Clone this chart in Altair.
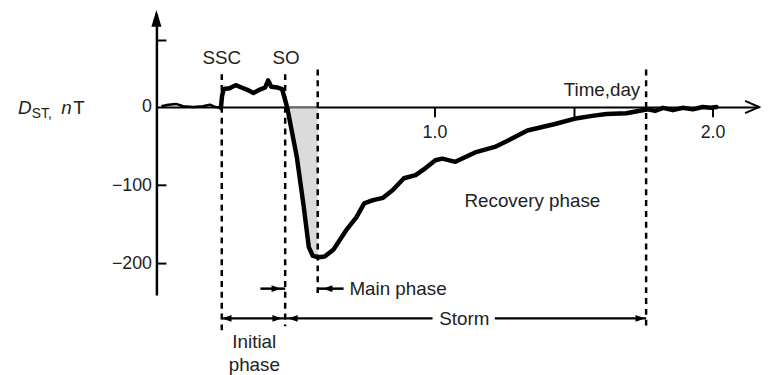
import altair as alt
import pandas as pd

# ---- data ----
quiet_t = [0.018, 0.043, 0.071, 0.096, 0.132, 0.167, 0.192, 0.213, 0.232]
quiet_v = [1, 3, 4, 1, 0, 1, 3, 0, -1]

storm_t = [0.232, 0.236, 0.242, 0.263, 0.285, 0.306, 0.327, 0.349, 0.370, 0.391,
           0.402, 0.413, 0.434, 0.452, 0.459, 0.470, 0.505, 0.530, 0.548, 0.562,
           0.584, 0.605, 0.637, 0.683, 0.719, 0.747, 0.779, 0.815, 0.850, 0.890,
           0.932, 0.968, 1.003, 1.028, 1.075, 1.146, 1.217, 1.263, 1.334, 1.430,
           1.502, 1.573, 1.619, 1.690, 1.733, 1.768, 1.793, 1.822, 1.857, 1.893,
           1.929, 1.964, 1.993, 2.014]
storm_v = [-1, 14, 23, 24, 28, 25, 22, 18, 22, 25,
           34, 26, 25, 23, 14, 0, -64, -128, -179, -190,
           -192, -191, -182, -157, -141, -123, -119, -116, -106, -91,
           -87, -78, -68, -66, -70, -58, -51, -43, -30, -22,
           -15, -11, -9, -8, -5, -3, -5, -1, -4, -1,
           -3, 0, -1, 0]

shade_t = [0.470, 0.505, 0.530, 0.548, 0.562, 0.580]
shade_v = [0, -64, -128, -179, -190, -192]

vline_t = [0.235, 0.463, 0.580, 1.761]
vline_top = [42, 42, 48, 48]
vline_bottom = [-285, -280, -239, -279]

seg_t1 = [0.374, 0.580, 0.235, 0.463, 1.217]
seg_t2 = [0.463, 0.673, 0.463, 0.993, 1.761]
seg_v = [-232, -232, -270, -270, -270]

head_t = [0.431, 0.616, 0.253, 0.434, 0.491, 1.740]
head_v = [-232, -232, -270, -270, -270, -270]
head_dir = ["right", "left", "left", "right", "left", "right"]

x_ticks = [1.0, 1.5, 2.0]
y_ticks = [-200, -100, 0]
y_inner_ticks = [-200, -100, 85]

ann_text = ["SSC", "SO", "Time,day", "Recovery phase", "Main phase", "Storm", "Initial", "phase"]
ann_t = [0.235, 0.466, 1.740, 1.352, 0.694, 1.107, 0.352, 0.352]
ann_v = [54.5, 54.5, 14, -127.5, -240, -279, -308, -337]
ann_align = ["center", "center", "right", "center", "left", "center", "center", "center"]

X_MAX = 2.167
Y_MIN, Y_MAX = -240, 119

FONT = "Liberation Sans"
TXT = "#222222"

xs = alt.Scale(domain=[0, X_MAX], nice=False, zero=False)
ys = alt.Scale(domain=[Y_MIN, Y_MAX], nice=False, zero=False)

AX = alt.Axis(
    values=x_ticks, format=".1f",
    labelExpr="datum.value == 1.5 ? '' : datum.label",
    offset=-190, tickSize=10, tickWidth=2, tickColor="black",
    domainColor="black", domainWidth=2, labelFontSize=18, labelFont=FONT,
    labelColor=TXT, labelPadding=7, grid=False, title=None)
AY = alt.Axis(
    values=y_ticks, ticks=False, domainColor="black", domainWidth=2.5,
    labelFontSize=18, labelFont=FONT, labelColor=TXT, labelPadding=5,
    grid=False, title=None)


def X(field="t"):
    return alt.X(f"{field}:Q", scale=xs, axis=AX, title=None)


def Y(field="v"):
    return alt.Y(f"{field}:Q", scale=ys, axis=AY, title=None)


quiet_df = pd.DataFrame({"t": quiet_t, "v": quiet_v})
storm_df = pd.DataFrame({"t": storm_t, "v": storm_v})
shade_df = pd.DataFrame({"t": shade_t, "v": shade_v})
vline_df = pd.DataFrame({"t": vline_t, "top": vline_top, "bottom": vline_bottom})
seg_df = pd.DataFrame({"t1": seg_t1, "t2": seg_t2, "v": seg_v})
head_df = pd.DataFrame({"t": head_t, "v": head_v, "dir": head_dir})
ytick_df = pd.DataFrame({"v": y_inner_ticks, "t1": [0.0] * 3, "t2": [0.036] * 3})

shade = alt.Chart(shade_df).mark_area(color="#bdbdbd", opacity=0.55).encode(
    x=X(), y=Y(), y2=alt.datum(0))

vlines = alt.Chart(vline_df).mark_rule(color="black", strokeWidth=2.5, strokeDash=[6, 5]).encode(
    x=X(), y=Y("top"), y2="bottom:Q")

quiet = alt.Chart(quiet_df).mark_line(color="black", strokeWidth=2.5, strokeJoin="round").encode(
    x=X(), y=Y())
storm = alt.Chart(storm_df).mark_line(color="black", strokeWidth=4.5, strokeJoin="round",
                                      strokeCap="round").encode(x=X(), y=Y())

segs = alt.Chart(seg_df).mark_rule(color="black", strokeWidth=2.5).encode(
    x=X("t1"), x2="t2:Q", y=Y())

right_path = "M1,0L-1,-0.7L-1,0.7Z"
left_path = "M-1,0L1,-0.7L1,0.7Z"
heads = alt.Chart(head_df).mark_point(filled=True, color="black", opacity=1, size=90).encode(
    x=X(), y=Y(),
    shape=alt.Shape("dir:N", scale=alt.Scale(domain=["left", "right"], range=[left_path, right_path]),
                    legend=None))

yticks = alt.Chart(ytick_df).mark_rule(color="black", strokeWidth=2).encode(
    x=X("t1"), x2="t2:Q", y=Y())

y_arrow = alt.Chart(pd.DataFrame({"t": [0.0], "v": [113.3]})).mark_point(
    filled=True, color="black", opacity=1, size=289, shape="M0,-1L0.6,1L-0.6,1Z").encode(x=X(), y=Y())
x_arrow = alt.Chart(pd.DataFrame({"t": [X_MAX], "v": [0.0]})).mark_point(
    filled=False, color="black", opacity=1, size=243, strokeWidth=2,
    shape="M-1.8,-0.8L0,0L-1.8,0.8").encode(x=X(), y=Y())

texts = []
for s, t, v, a in zip(ann_text, ann_t, ann_v, ann_align):
    texts.append(alt.Chart(pd.DataFrame({"t": [t], "v": [v], "s": [s]})).mark_text(
        align=a, baseline="alphabetic", fontSize=19, font=FONT, color=TXT
    ).encode(x=X(), y=Y(), text="s:N"))

# y-axis title: D_ST, nT
title_parts = [("D", -0.498, -8.7, 19, "italic"), ("ST,", -0.448, -13.8, 14, "normal"),
               ("n", -0.342, -8.7, 19, "italic"), ("T", -0.299, -8.7, 19, "normal")]
for s, t, v, fs, st in title_parts:
    texts.append(alt.Chart(pd.DataFrame({"t": [t], "v": [v], "s": [s]})).mark_text(
        align="left", baseline="alphabetic", fontSize=fs, font=FONT, fontStyle=st, color=TXT
    ).encode(x=X(), y=Y(), text="s:N"))

chart = alt.layer(shade, vlines, quiet, storm, segs, heads, yticks, y_arrow, x_arrow,
                  *texts).properties(
    width=609, height=284,
    padding={"left": 150, "top": 4, "right": 2, "bottom": 79},
    autosize=alt.AutoSizeParams(type="none"),
    background="white",
).configure_view(stroke=None)

chart.save("out.html", embed_options={"renderer": "svg", "actions": False})
